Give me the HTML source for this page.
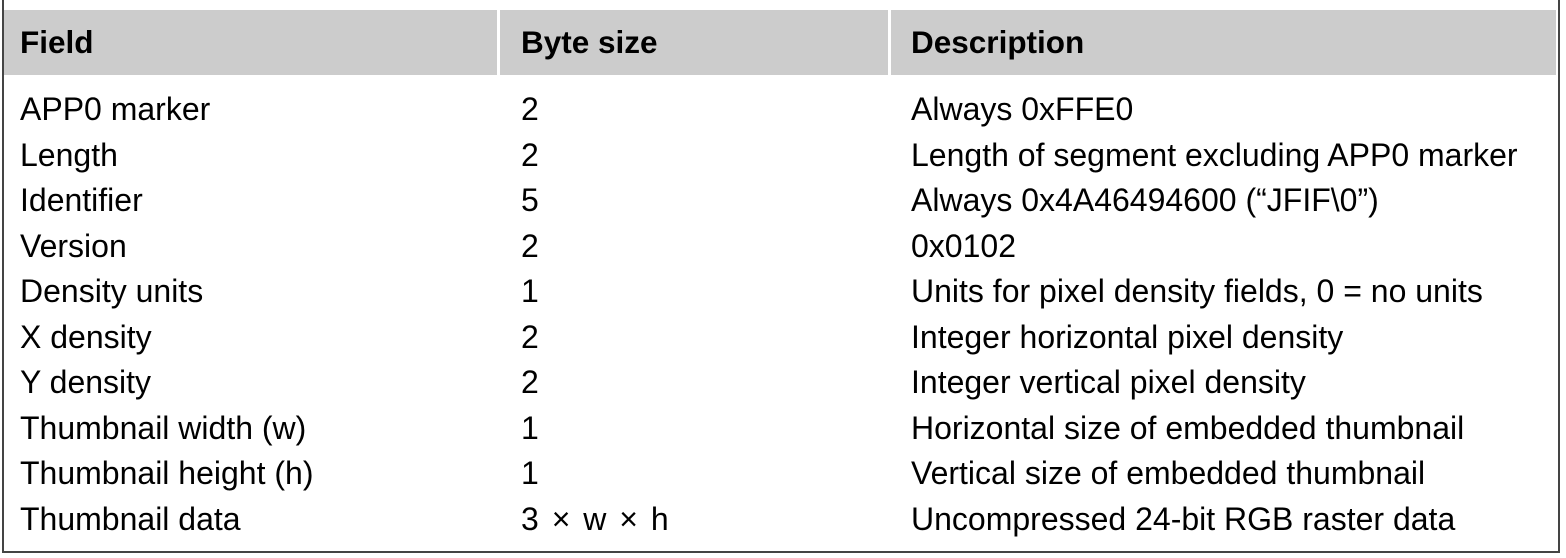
<!DOCTYPE html>
<html><head><meta charset="utf-8"><style>
body{margin:0;width:1566px;height:558px;background:#fff;position:relative;overflow:hidden;font-family:"Liberation Sans",Arial,sans-serif;}
.b{position:absolute;left:2px;top:-2px;width:1554px;height:551px;border:2px solid #444;}
.h{position:absolute;top:10px;height:65px;background:#cccccc;}
.t{position:absolute;font-size:32px;line-height:32px;color:#000;white-space:nowrap;}
.hb{font-weight:bold;font-size:31.5px;}
</style></head><body>
<div class="b"></div>
<div class="h" style="left:4px;width:493px"></div>
<div class="h" style="left:500px;width:388px"></div>
<div class="h" style="left:891px;width:665px"></div>
<div class="t hb" style="left:20px;top:26px">Field</div>
<div class="t hb" style="left:521px;top:26px">Byte size</div>
<div class="t hb" style="left:911px;top:26px">Description</div>
<div id="rows"></div>
<script>
var r=[["APP0 marker","2","Always 0xFFE0"],["Length","2","Length of segment excluding APP0 marker"],["Identifier","5","Always 0x4A46494600 (“JFIF\\0”)"],["Version","2","0x0102"],["Density units","1","Units for pixel density fields, 0 = no units"],["X density","2","Integer horizontal pixel density"],["Y density","2","Integer vertical pixel density"],["Thumbnail width (w)","1","Horizontal size of embedded thumbnail"],["Thumbnail height (h)","1","Vertical size of embedded thumbnail"],["Thumbnail data","3 <span style=\"margin:0 4px\">×</span> w <span style=\"margin:0 4px\">×</span> h","Uncompressed 24-bit RGB raster data"]];
var h="";r.forEach(function(x,i){var y=93+i*45.5;h+='<div class="t" style="left:20px;top:'+y+'px">'+x[0]+'</div><div class="t" style="left:521px;top:'+y+'px">'+x[1]+'</div><div class="t" style="left:911px;top:'+y+'px">'+x[2]+'</div>';});
document.getElementById("rows").innerHTML=h;
</script>
</body></html>
